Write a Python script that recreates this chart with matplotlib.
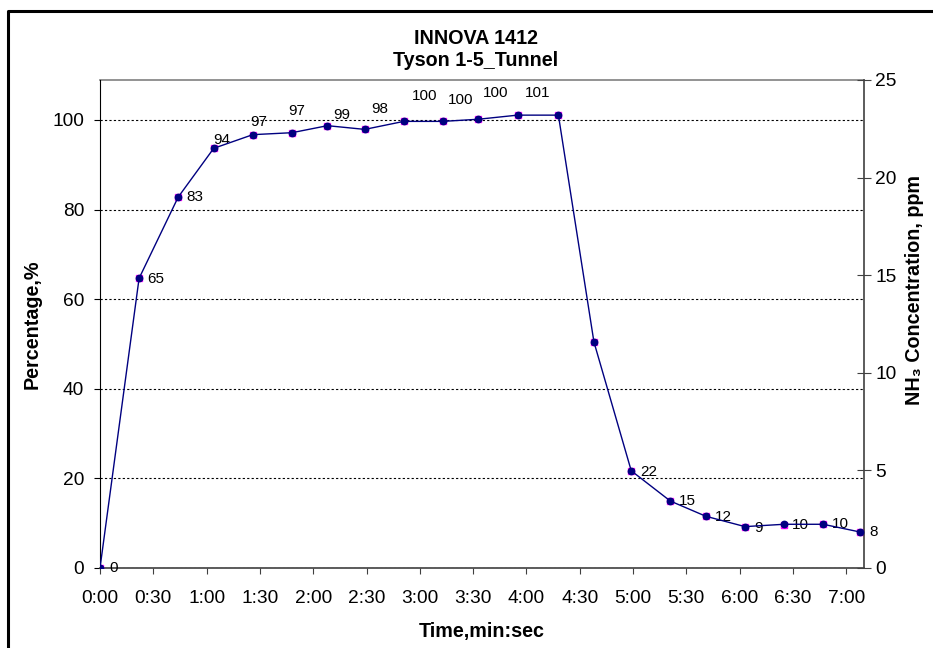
# INNOVA 1412 response curve: percentage and NH3 concentration vs time

import matplotlib
matplotlib.use("Agg")
import matplotlib.pyplot as plt
from matplotlib.lines import Line2D

plt.rcParams['font.family'] = ['Liberation Sans', 'DejaVu Sans']

#%% Data
# Time of each reading, seconds
time_s = [0, 22, 44, 64, 86, 108, 128, 149, 171, 193, 213,
          235, 258, 278, 299, 321, 341, 363, 385, 407, 428]
# Percentage of the reference concentration, %
pct = [0, 64.7, 82.8, 93.7, 96.7, 97.1, 98.7, 97.9, 99.7, 99.7, 100.2,
       101.1, 101.1, 50.4, 21.7, 15.0, 11.6, 9.2, 9.7, 9.8, 8.0]
# NH3 concentration, ppm
conc = [0, 14.84, 19.0, 21.5, 22.2, 22.3, 22.66, 22.47, 22.88, 22.88, 22.99,
        23.2, 23.2, 11.58, 4.98, 3.43, 2.65, 2.12, 2.24, 2.24, 1.84]
# Data labels shown on the chart ('' = no label)
pct_labels = ['0', '65', '83', '94', '97', '97', '99', '98', '100', '100', '100',
              '101', '', '', '22', '15', '12', '9', '10', '10', '8']

# Label placement (pixels right / up of each point)
label_offsets = [(9, 0), (8, -1), (8, 0), (0, 8), (-3, 13), (-4, 22), (6, 11),
                 (7, 20), (8, 25), (5, 21), (4, 26), (7, 22), (0, 0), (0, 0),
                 (9, -1), (9, 0), (9, -1), (9, -1), (8, 0), (9, 0), (9, 0)]

x_ticks = list(range(0, 421, 30))
pct_ticks = [0, 20, 40, 60, 80, 100]
conc_ticks = [0, 5, 10, 15, 20, 25]

W, H = 933, 648
fig = plt.figure(figsize=(W/100, H/100), dpi=100)
ax = fig.add_axes([100/W, 80/H, 764/W, 488/H])

# Percentage series (magenta squares)
ax.plot(time_s, pct, ls='none', marker='s', ms=4.8, mfc='#FF00FF', mec='#FF00FF', zorder=3)
ax.set_xlim(0, 430)
ax.set_ylim(0, 108.9)
ax.set_yticks(pct_ticks)
ax.set_xticks(x_ticks)
ax.set_xticklabels(["%d:%02d" % (t//60, t % 60) for t in x_ticks])
ax.yaxis.grid(True, color='black', linestyle=(0, (2, 2)), linewidth=0.8)
ax.set_axisbelow(True)

for t, v, lab, (dx, dy) in zip(time_s, pct, pct_labels, label_offsets):
    if lab:
        ax.annotate(lab, (t, v), xytext=(dx, dy), textcoords='offset pixels',
                    ha='left', va='center', fontsize=11, zorder=5)

# Concentration series on the secondary axis (navy line and dots)
ax2 = ax.twinx()
ax2.plot(time_s, conc, color='#000080', lw=1.0, marker='o', ms=4.6,
         mfc='#000080', mec='#000080', zorder=4)
ax2.set_ylim(0, 25)
ax2.set_yticks(conc_ticks)

# Spines and ticks
for s in ['top', 'right']:
    ax.spines[s].set_visible(False)
ax.spines['left'].set_color('black')
ax.spines['bottom'].set_color('#404040')
ax.spines['bottom'].set_linewidth(1.2)
for s in ['top', 'left', 'bottom']:
    ax2.spines[s].set_visible(False)
ax2.spines['right'].set_color('#404040')
ax2.spines['right'].set_linewidth(1.2)
ax.add_line(Line2D([0, 1], [1, 1], transform=ax.transAxes, color='#808080', lw=1.2, clip_on=False))

ax.tick_params(axis='x', direction='out', length=4.5, width=0.8, color='#404040',
               labelsize=13.8, pad=11)
ax.tick_params(axis='y', direction='out', length=4.5, width=0.8, labelsize=13.8, pad=7)
ax2.tick_params(axis='y', direction='inout', length=10, width=0.8, color='#404040',
                labelsize=13.8, pad=3)

# Titles and axis labels
fig.text(476/W, 1 - 38/H, 'INNOVA 1412', ha='center', va='center', fontsize=14.2, fontweight='bold')
fig.text(476/W, 1 - 60/H, 'Tyson 1-5_Tunnel', ha='center', va='center', fontsize=14.2, fontweight='bold')
fig.text(482/W, 1 - 632/H, 'Time,min:sec', ha='center', va='center', fontsize=14.2, fontweight='bold')
fig.text(32/W, 1 - 324/H, 'Percentage,%', ha='center', va='center', rotation=90,
         fontsize=14.2, fontweight='bold')
fig.text(914/W, 1 - 290/H, 'NH\u2083 Concentration, ppm', ha='center', va='center', rotation=90,
         fontsize=14.2, fontweight='bold')

# Outer chart border (top and left edges visible)
fig.add_artist(Line2D([8/W, 8/W, 1], [0, 1 - 11/H, 1 - 11/H], transform=fig.transFigure,
                      color='black', lw=2.2))

plt.savefig("out.png", dpi=100)
